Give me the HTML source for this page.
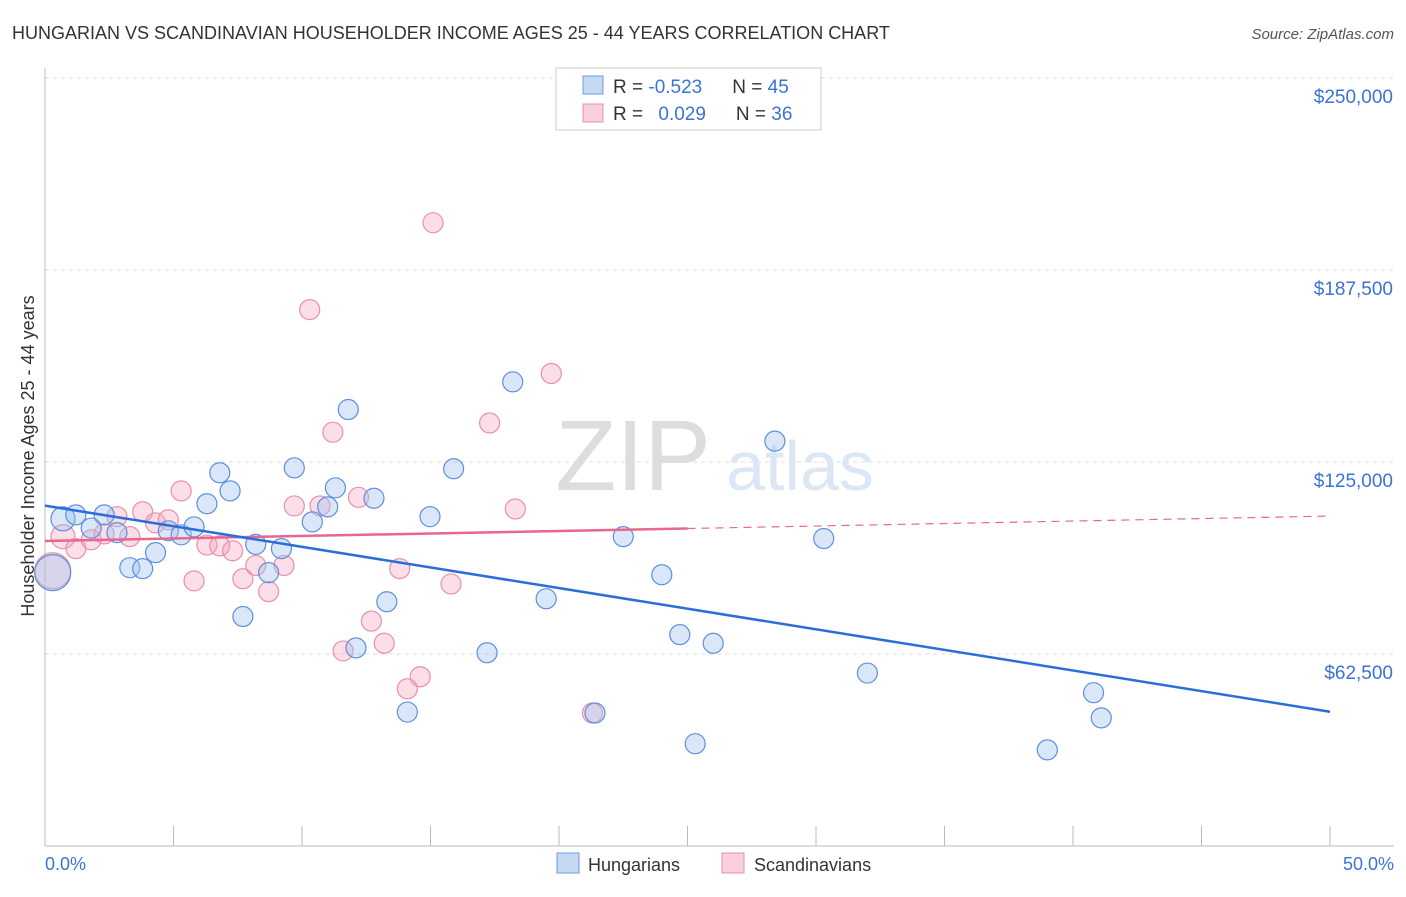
<!DOCTYPE html>
<html><head><meta charset="utf-8"><style>
body{margin:0;background:#fff;font-family:"Liberation Sans",sans-serif;}
svg text{font-family:"Liberation Sans",sans-serif;}
</style></head><body>
<svg id="chart" width="1406" height="892">
<text x="12" y="39" font-size="18" fill="#333">HUNGARIAN VS SCANDINAVIAN HOUSEHOLDER INCOME AGES 25 - 44 YEARS CORRELATION CHART</text>
<text x="1394" y="39" font-size="15" fill="#555" font-style="italic" text-anchor="end">Source: ZipAtlas.com</text>
<g id="grid"></g>
<text x="633" y="490" font-size="100" fill="#ddd" font-family="Liberation Serif" text-anchor="middle">ZIP</text>
<text x="800" y="490" font-size="70" fill="#dce7f6" text-anchor="middle">atlas</text>
<line x1="45" y1="68" x2="45" y2="846" stroke="#bbb"/>
<line x1="45" y1="846" x2="1394" y2="846" stroke="#bbb"/>
<g id="xticks"></g>
<g id="marks"></g>
<text transform="translate(34,456) rotate(-90)" font-size="18" fill="#333" text-anchor="middle">Householder Income Ages 25 - 44 years</text>
<text x="45" y="870" font-size="18" fill="#3a73d6">0.0%</text>
<text x="1394" y="870" font-size="18" fill="#3a73d6" text-anchor="end">50.0%</text>
<g>
<rect x="556" y="68" width="265" height="62" fill="#fff" stroke="#ccc"/>
<rect x="583" y="76" width="20" height="18" fill="#c5d9f5" stroke="#6f9be0"/>
<rect x="583" y="104" width="20" height="18" fill="#f9cfdc" stroke="#e890ab"/>
<text x="613" y="93" font-size="19" fill="#333">R = <tspan fill="#3a73d6">-0.523</tspan><tspan dx="30">N = </tspan><tspan fill="#3a73d6">45</tspan></text>
<text x="613" y="120" font-size="19" fill="#333">R = <tspan dx="10" fill="#3a73d6">0.029</tspan><tspan dx="30">N = </tspan><tspan fill="#3a73d6">36</tspan></text>
</g>
<g>
<rect x="557" y="853" width="22" height="20" fill="#c5d9f5" stroke="#6f9be0"/>
<text x="588" y="871" font-size="18" fill="#333">Hungarians</text>
<rect x="722" y="853" width="22" height="20" fill="#f9cfdc" stroke="#e890ab"/>
<text x="754" y="871" font-size="18" fill="#333">Scandinavians</text>
</g>
</svg>
<script>
const yTicks=[62500,125000,187500,250000];
const yTickLabels=["$62,500","$125,000","$187,500","$250,000"];
const hunX=[0.3,0.7,1.2,1.8,2.3,2.8,3.3,3.8,4.3,4.8,5.3,5.8,6.3,6.8,7.2,7.7,8.2,8.7,9.2,9.7,10.4,11.0,11.3,11.8,12.1,12.8,13.3,14.1,14.98,15.9,17.2,18.2,19.5,21.4,22.5,24.0,24.7,25.3,26.0,28.4,30.3,32.0,39.0,40.8,41.1];
const hunY=[89000,106500,107800,103500,107800,102000,90600,90300,95500,102600,101300,103900,111400,121500,115600,74700,98200,89000,96800,123100,105500,110400,116600,142100,64500,113200,79500,43600,107200,122800,62900,151100,80500,43300,100700,88300,68800,33300,66000,131800,100100,56300,31300,49900,41700];
const scaX=[0.3,0.7,1.2,1.8,2.3,2.8,3.3,3.8,4.3,4.8,5.3,5.8,6.3,6.8,7.3,7.7,8.2,8.7,9.3,9.7,10.3,10.7,11.2,11.6,12.2,12.7,13.2,13.8,14.1,14.6,15.1,15.8,17.3,18.3,19.7,21.3];
const scaY=[89600,100700,96800,99700,101600,107200,100700,108800,105200,106200,115600,86300,98000,97700,96100,87000,91300,82800,91300,110700,174600,110700,134700,63500,113500,73200,66000,90300,51200,55100,202900,85300,137700,109700,153800,43300];
const scaR=[18,12,10,10,10,10,10,10,10,10,10,10,10,10,10,10,10,10,10,10,10,10,10,10,10,10,10,10,10,10,10,10,10,10,10,10];
const hunR=[18,12,10,10,10,10,10,10,10,10,10,10,10,10,10,10,10,10,10,10,10,10,10,10,10,10,10,10,10,10,10,10,10,10,10,10,10,10,10,10,10,10,10,10,10];
const hunTrend=[110800,43700];
const scaTrend=[99300,107400];
const scaSolidEnd=25;
const xTicks=[0,5,10,15,20,25,30,35,40,45,50];

const NS="http://www.w3.org/2000/svg";
const X=v=>45+v/50*1285;
const Y=v=>846-v/62500*192;
function mk(t,a,parent){const e=document.createElementNS(NS,t);for(const k in a)e.setAttribute(k,a[k]);document.getElementById(parent).appendChild(e);return e;}
yTicks.forEach((t,i)=>{
 const l=mk('line',{x1:45,x2:1394,y1:Y(t),y2:Y(t),stroke:'#ddd','stroke-dasharray':'4,4'},'grid');
 
 
 const tx=mk('text',{x:1393,y:Y(t)+25,'font-size':19,fill:'#3a73d6','text-anchor':'end'},'grid');
 tx.textContent=yTickLabels[i];
 
 
});
xTicks.forEach(t=>{
 const l=mk('line',{x1:X(t),x2:X(t),y1:826,y2:846,stroke:'#bbb'},'xticks');
 
 
});
scaX.forEach((x,i)=>{
 const c=mk('circle',{cx:X(x),cy:Y(scaY[i]),r:scaR[i],fill:'rgba(244,160,185,0.35)',stroke:'#ea8fab','stroke-width':1.2},'marks');
 
 
});
hunX.forEach((x,i)=>{
 const c=mk('circle',{cx:X(x),cy:Y(hunY[i]),r:hunR[i],fill:'rgba(160,195,240,0.4)',stroke:'#5d8fdc','stroke-width':1.2},'marks');
 
 
});
const sMid=scaTrend[0]+(scaTrend[1]-scaTrend[0])*scaSolidEnd/50;
let l1=mk('line',{x1:X(0),y1:Y(scaTrend[0]),x2:X(scaSolidEnd),y2:Y(sMid),stroke:'#e8668f','stroke-width':2.5},'marks');


let l2=mk('line',{x1:X(scaSolidEnd),y1:Y(sMid),x2:X(50),y2:Y(scaTrend[1]),stroke:'#e8668f','stroke-width':1.2,'stroke-dasharray':'8,6'},'marks');


let l3=mk('line',{x1:X(0),y1:Y(hunTrend[0]),x2:X(50),y2:Y(hunTrend[1]),stroke:'#2a6ed8','stroke-width':2.5},'marks');


</script>
</body></html>
